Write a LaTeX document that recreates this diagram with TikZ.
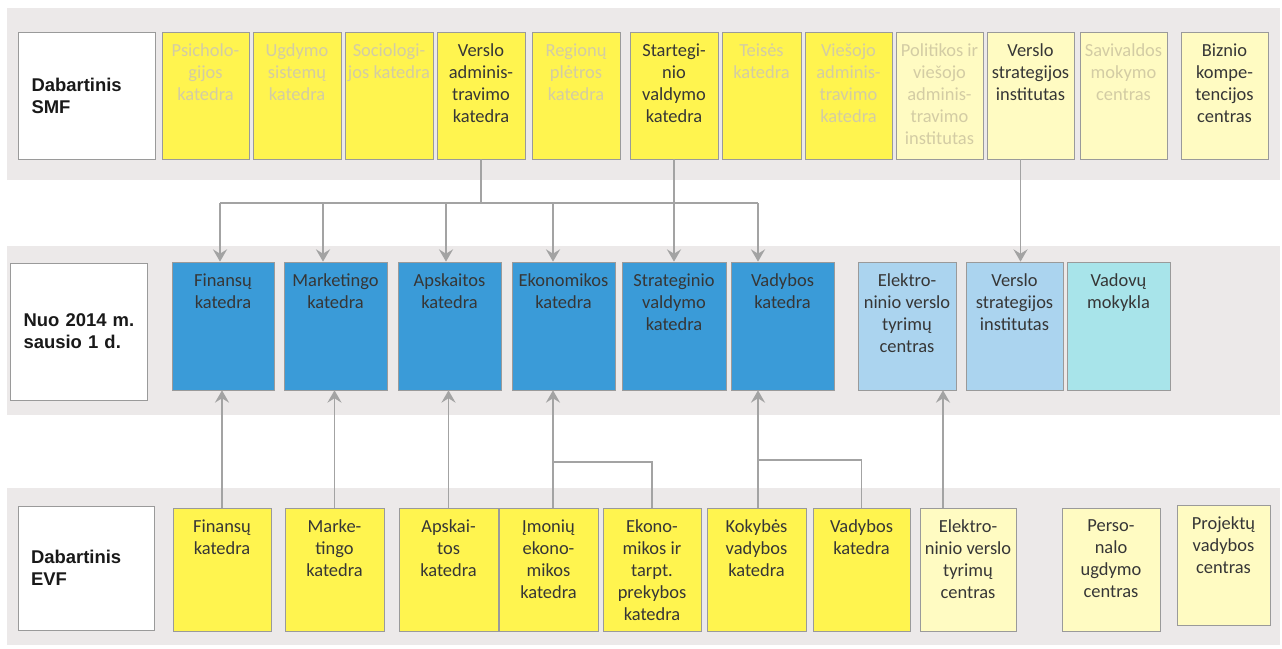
\documentclass[tikz,border=0pt]{standalone}
\usepackage{fontspec}
\setmainfont{Carlito}
\newfontfamily\headfont{Liberation Sans}
\usetikzlibrary{arrows.meta}

\definecolor{bandgray}{HTML}{ECE9E9}
\definecolor{edgegray}{HTML}{9A9A9A}
\definecolor{linkgray}{HTML}{A3A3A3}
\definecolor{textgray}{HTML}{363636}
\definecolor{fadetext}{HTML}{D3CCA4}
\definecolor{yel}{HTML}{FFF44F}
\definecolor{paleyel}{HTML}{FFFBC2}
\definecolor{deptblue}{HTML}{3A9BD8}
\definecolor{lightblue}{HTML}{ABD4EF}
\definecolor{mintblue}{HTML}{A8E4EA}

\begin{document}
\begin{tikzpicture}
        [%%%%%%%%%%%%%%%%%%%%%%%%%%%%%%
        x=0.02cm,y=-0.02cm,
        band/.style={fill=bandgray,draw=none},
        unit/.style={rectangle,draw=edgegray,line width=0.4pt,inner sep=0pt},
        txt/.style={anchor=north,yshift=-0.23cm,align=center,inner sep=0pt,
          font=\fontsize{10.5}{12.5}\selectfont,text=textgray},
        faded/.style={txt,text=fadetext},
        head/.style={unit,fill=white,text width=2.2cm,align=left,
          font=\headfont\bfseries\fontsize{10.5}{12.5}\selectfont,text=black!90},
        smf/.style={unit,minimum height=2.54cm},
        now/.style={unit,minimum height=2.56cm},
        evf/.style={unit,minimum height=2.46cm},
        link/.style={draw=linkgray,line width=1.1pt},
        arrow/.style={link,-{Stealth[length=7pt,width=8pt,inset=2.5pt]}},
        ]%%%%%%%%%%%%%%%%%%%%%%%%%%%%%%

        \useasboundingbox (0,0) rectangle (1282,649);

        % grey bands
        \fill[band] (7,8) rectangle (1280,180);
        \fill[band] (7,246) rectangle (1280,415);
        \fill[band] (7,488) rectangle (1280,645);

        % Dabartinis SMF
        \node[head,minimum width=2.74cm,minimum height=2.54cm] (hsmf) at (86.5,95.5) {Dabartinis\\SMF};
        \node[smf,fill=yel,minimum width=1.74cm,label={[faded]north:Psicholo-\\gijos\\katedra}] (spsi) at (205.5,95.5) {};
        \node[smf,fill=yel,minimum width=1.76cm,label={[faded]north:Ugdymo\\sistemų\\katedra}] (sugd) at (297,95.5) {};
        \node[smf,fill=yel,minimum width=1.76cm,label={[faded]north:Sociologi-\\jos katedra}] (ssoc) at (389,95.5) {};
        \node[smf,fill=yel,minimum width=1.76cm,label={[txt]north:Verslo\\adminis-\\travimo\\katedra}] (sva) at (481,95.5) {};
        \node[smf,fill=yel,minimum width=1.76cm,label={[faded]north:Regionų\\plėtros\\katedra}] (sreg) at (576,95.5) {};
        \node[smf,fill=yel,minimum width=1.76cm,label={[txt]north:Startegi-\\nio\\valdymo\\katedra}] (ssv) at (674,95.5) {};
        \node[smf,fill=yel,minimum width=1.58cm,label={[faded]north:Teisės\\katedra}] (stei) at (761.5,95.5) {};
        \node[smf,fill=yel,minimum width=1.74cm,label={[faded]north:Viešojo\\adminis-\\travimo\\katedra}] (svie) at (848.5,95.5) {};
        \node[smf,fill=paleyel,minimum width=1.74cm,label={[faded]north:Politikos ir\\viešojo\\adminis-\\travimo\\institutas}] (spol) at (939.5,95.5) {};
        \node[smf,fill=paleyel,minimum width=1.74cm,label={[txt]north:Verslo\\strategijos\\institutas}] (svi) at (1030.5,95.5) {};
        \node[smf,fill=paleyel,minimum width=1.74cm,label={[faded]north:Savivaldos\\mokymo\\centras}] (ssav) at (1123.5,95.5) {};
        \node[smf,fill=paleyel,minimum width=1.74cm,label={[txt]north:Biznio\\kompe-\\tencijos\\centras}] (sbiz) at (1224.5,95.5) {};

        % Nuo 2014 m. sausio 1 d.
        \node[head,minimum width=2.74cm,minimum height=2.74cm] (hnow) at (78.5,331.5) {Nuo~2014~m.\\sausio~1~d.};
        \node[now,fill=deptblue,minimum width=2.04cm,label={[txt]north:Finansų\\katedra}] (nfin) at (223,326) {};
        \node[now,fill=deptblue,minimum width=2.06cm,label={[txt]north:Marketingo\\katedra}] (nmkt) at (335.5,326) {};
        \node[now,fill=deptblue,minimum width=2.06cm,label={[txt]north:Apskaitos\\katedra}] (naps) at (449.5,326) {};
        \node[now,fill=deptblue,minimum width=2.06cm,label={[txt]north:Ekonomikos\\katedra}] (neko) at (563.5,326) {};
        \node[now,fill=deptblue,minimum width=2.08cm,label={[txt]north:Strateginio\\valdymo\\katedra}] (nstr) at (674,326) {};
        \node[now,fill=deptblue,minimum width=2.06cm,label={[txt]north:Vadybos\\katedra}] (nvad) at (782.5,326) {};
        \node[now,fill=lightblue,minimum width=1.96cm,label={[txt]north:Elektro-\\ninio verslo\\tyrimų\\centras}] (nel) at (907,326) {};
        \node[now,fill=lightblue,minimum width=1.94cm,label={[txt]north:Verslo\\strategijos\\institutas}] (nvsi) at (1014.5,326) {};
        \node[now,fill=mintblue,minimum width=2.06cm,label={[txt]north:Vadovų\\mokykla}] (nvm) at (1118.5,326) {};

        % Dabartinis EVF
        \node[head,minimum width=2.72cm,minimum height=2.48cm] (hevf) at (86,568) {Dabartinis\\EVF};
        \node[evf,fill=yel,minimum width=1.96cm,label={[txt]north:Finansų\\katedra}] (efin) at (222,569.5) {};
        \node[evf,fill=yel,minimum width=1.98cm,label={[txt]north:Marke-\\tingo\\katedra}] (emkt) at (334.5,569.5) {};
        \node[evf,fill=yel,minimum width=1.98cm,label={[txt]north:Apskai-\\tos\\katedra}] (eaps) at (448.5,569.5) {};
        \node[evf,fill=yel,minimum width=1.98cm,label={[txt]north:Įmonių\\ekono-\\mikos\\katedra}] (eimo) at (548.5,569.5) {};
        \node[evf,fill=yel,minimum width=1.96cm,label={[txt]north:Ekono-\\mikos ir\\tarpt.\\prekybos\\katedra}] (eekt) at (652,569.5) {};
        \node[evf,fill=yel,minimum width=1.98cm,label={[txt]north:Kokybės\\vadybos\\katedra}] (ekok) at (756.5,569.5) {};
        \node[evf,fill=yel,minimum width=1.94cm,label={[txt]north:Vadybos\\katedra}] (evad) at (861.5,569.5) {};
        \node[evf,fill=paleyel,minimum width=1.92cm,label={[txt]north:Elektro-\\ninio verslo\\tyrimų\\centras}] (eel) at (968,569.5) {};
        \node[evf,fill=paleyel,minimum width=1.96cm,label={[txt]north:Perso-\\nalo\\ugdymo\\centras}] (eper) at (1111,569.5) {};
        \node[unit,fill=paleyel,minimum width=1.86cm,minimum height=2.4cm,label={[txt]north:Projektų\\vadybos\\centras}] (epro) at (1223.5,565) {};

        % SMF -> new structure
        \coordinate (bus) at (0,203);
        \draw[link] (sva.south) -- (sva.south |- bus);
        \draw[link] (ssv.south) -- (ssv.south |- bus);
        \draw[link] ([xshift=-0.06cm]nfin.north |- bus) -- ([xshift=-0.49cm]nvad.north |- bus);
        \foreach \n/\s in {nfin/-0.06,nmkt/-0.25,naps/-0.07,neko/-0.21,nstr/0,nvad/-0.49}
          \draw[arrow] ([xshift=\s cm]\n.north |- bus) -- ([xshift=\s cm]\n.north);
        \draw[arrow] ([xshift=-0.2cm]svi.south) -- ([xshift=-0.2cm]svi.south |- nvsi.north);

        % EVF -> new structure
        \foreach \a/\b in {efin/nfin,emkt/nmkt,eaps/naps}
          \draw[arrow] (\a.north) -- (\a.north |- \b.south);
        \draw[arrow] ([xshift=0.09cm]eimo.north) -- ([xshift=0.09cm]eimo.north |- neko.south);
        \draw[link] (eekt.north) |- ([xshift=0.09cm,yshift=0.92cm]eimo.north);
        \draw[arrow] ([xshift=0.03cm]ekok.north) -- ([xshift=0.03cm]ekok.north |- nvad.south);
        \draw[link] (evad.north) |- ([xshift=0.03cm,yshift=0.96cm]ekok.north);
        \draw[arrow] ([xshift=-0.5cm]eel.north) -- ([xshift=-0.5cm]eel.north |- nel.south);
      \end{tikzpicture}
\end{document}
